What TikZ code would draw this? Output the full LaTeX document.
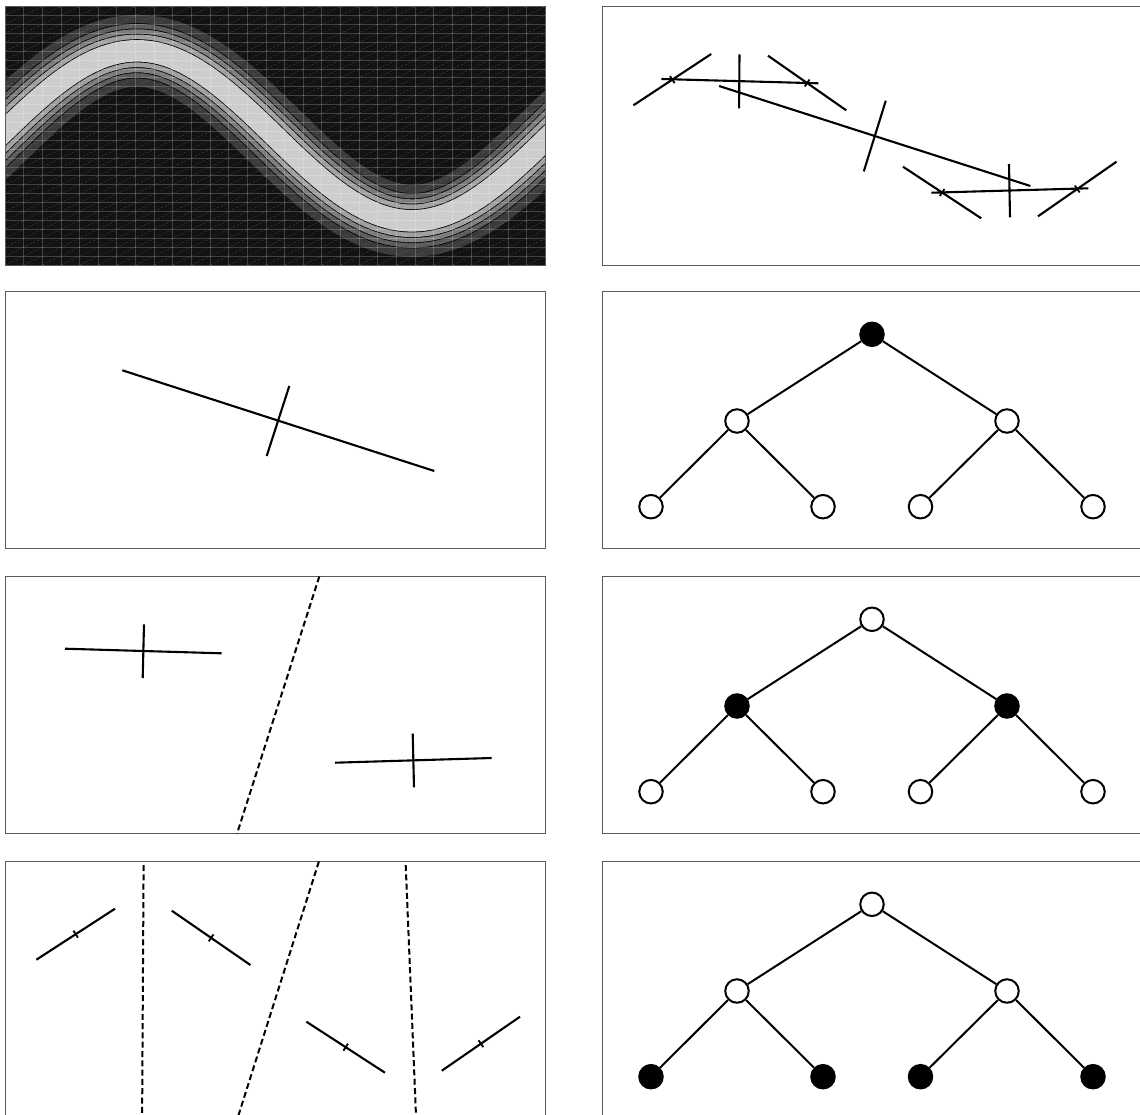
\documentclass[tikz,border=0pt]{standalone}
\usetikzlibrary{calc}
\definecolor{cbg}{HTML}{121212}
\definecolor{cone}{HTML}{3B3B3B}
\definecolor{ctwo}{HTML}{5C5C5C}
\definecolor{cthree}{HTML}{7D7D7D}
\definecolor{cfour}{HTML}{A0A0A0}
\definecolor{ccore}{HTML}{CDCDCD}
\definecolor{cframe}{HTML}{5A5A5A}
\tikzset{
  frame/.style={draw=cframe, line width=1bp},
  seg/.style={line width=2.1bp, line cap=butt},
  tickseg/.style={line width=1.8bp},
  sep/.style={line width=2bp, dash pattern=on 6bp off 3.3bp},
  vtx/.style={circle, draw, line width=2bp, minimum size=23.5bp, inner sep=0pt, fill=white},
  vtxon/.style={vtx, fill=black},
  edge/.style={line width=2bp},
  gridl/.style={white, opacity=0.2, line width=0.8bp},
  diagl/.style={white, opacity=0.16, line width=0.6bp, dash pattern=on 2bp off 2bp},
}
\newcommand\tkseg[2]{%
  \draw[seg] (#1) -- (#2);
  \draw[tickseg] ($(#1)!0.5!(#2)!4.2bp!90:(#2)$) -- ($(#1)!0.5!(#2)!4.2bp!-90:(#2)$);}
\newcommand\sinband[2]{% #1 width, #2 colour
  \draw[line width=#1bp, color=#2, line join=round]
    plot[variable=\t, domain=-70:620, samples=180, smooth] (\t,{135.8-85*sin((\t+0.5)*0.6545)});}
% tree: #1 prefix, #2 top y, #3 root style, #4 mid style, #5 leaf style
\newcommand\drawtree[5]{%
  \node[#3] (#1r) at (872,{#2+42.8}) {};
  \node[#4] (#1a) at (737,{#2+129.5}) {};
  \node[#4] (#1b) at (1007,{#2+129.5}) {};
  \node[#5] (#1c) at (651,{#2+215.2}) {};
  \node[#5] (#1d) at (823,{#2+215.2}) {};
  \node[#5] (#1e) at (920.5,{#2+215.2}) {};
  \node[#5] (#1f) at (1093,{#2+215.2}) {};
  \draw[edge] (#1r) -- (#1a);
  \draw[edge] (#1r) -- (#1b);
  \draw[edge] (#1a) -- (#1c);
  \draw[edge] (#1a) -- (#1d);
  \draw[edge] (#1b) -- (#1e);
  \draw[edge] (#1b) -- (#1f);}
\begin{document}
\begin{tikzpicture}[x=1bp,y=-1bp]
\path[use as bounding box, fill=white] (0,0) rectangle (1140,1115);
\clip (0,0) rectangle (1140,1115);

% ---------- panel 1 left: contour plot ----------
\begin{scope}
  \clip (5,6.5) rectangle (545.5,265);
  \fill[cbg] (5,6.5) rectangle (545.5,265);
  \sinband{71.8}{cone}
  \sinband{55.2}{black}
  \sinband{53.6}{ctwo}
  \sinband{44.6}{black}
  \sinband{43.0}{cthree}
  \sinband{34.2}{black}
  \sinband{32.6}{cfour}
  \sinband{23.2}{black}
  \sinband{21.6}{ccore}
  \foreach \i in {1,...,28} {
    \draw[gridl] ({5+\i*18.6379},6.5) -- ({5+\i*18.6379},265);
    \draw[gridl] (5,{6.5+\i*8.9138}) -- (545.5,{6.5+\i*8.9138});
  }
  \foreach \k in {-29,...,28} {
    \draw[diagl] ({5+\k*18.6379},265) -- ({545.5+\k*18.6379},6.5);
  }
\end{scope}
\draw[frame] (5,6.5) rectangle (545.5,265);

% ---------- panel 1 right: line hierarchy ----------
\draw[frame] (1143,6.5) -- (602,6.5) -- (602,265) -- (1143,265);
\coordinate (a1) at (633.4,105.3); \coordinate (a2) at (711.2,54);
\coordinate (b1) at (661.3,79);    \coordinate (b2) at (818.3,83.3);
\coordinate (v1) at (739.5,54.3);  \coordinate (v2) at (739.1,108.3);
\coordinate (c1) at (768,55.7);    \coordinate (c2) at (846.2,110.3);
\coordinate (d1) at (719.1,86);    \coordinate (d2) at (1030.4,186);
\coordinate (e1) at (885.8,100.7); \coordinate (e2) at (863.8,171.3);
\coordinate (f1) at (903,166.7);   \coordinate (f2) at (981.2,218.3);
\coordinate (g1) at (931.3,192.7); \coordinate (g2) at (1088.3,188.3);
\coordinate (w1) at (1009,164);    \coordinate (w2) at (1010,217.3);
\coordinate (h1) at (1038,216.3);  \coordinate (h2) at (1116.5,161.7);
\tkseg{a1}{a2}
\tkseg{c1}{c2}
\tkseg{f1}{f2}
\tkseg{h1}{h2}
\draw[seg] (b1) -- (b2);
\draw[seg] (v1) -- (v2);
\draw[seg] (d1) -- (d2);
\draw[seg] (e1) -- (e2);
\draw[seg] (g1) -- (g2);
\draw[seg] (w1) -- (w2);

% ---------- panel 2 left ----------
\draw[frame] (5,291.5) rectangle (545.5,548.7);
\coordinate (p1) at (122.3,370.3); \coordinate (p2) at (434.3,471);
\coordinate (q1) at (289.3,386);   \coordinate (q2) at (266.7,456);
\draw[seg] (p1) -- (p2);
\draw[seg] (q1) -- (q2);

% ---------- panel 2 right ----------
\draw[frame] (1143,291.5) -- (602,291.5) -- (602,548.7) -- (1143,548.7);
\drawtree{t}{291.5}{vtxon}{vtx}{vtx}

% ---------- panel 3 left ----------
\draw[frame] (5,576.5) rectangle (545.5,833.7);
\coordinate (r1) at (65,648.7);    \coordinate (r2) at (221.7,653.3);
\coordinate (s1) at (144,624.3);   \coordinate (s2) at (142.7,678);
\coordinate (r3) at (335,762.7);   \coordinate (r4) at (491.7,758);
\coordinate (s3) at (412.7,733.7); \coordinate (s4) at (414,787.3);
\coordinate (k1) at (319.3,576.5); \coordinate (k2) at (237,833.7);
\draw[seg] (r1) -- (r2);
\draw[seg] (s1) -- (s2);
\draw[seg] (r3) -- (r4);
\draw[seg] (s3) -- (s4);
\draw[sep] (k1) -- (k2);

% ---------- panel 3 right ----------
\draw[frame] (1143,576.5) -- (602,576.5) -- (602,833.7) -- (1143,833.7);
\drawtree{u}{576.5}{vtx}{vtxon}{vtx}

% ---------- panel 4 left ----------
\draw[frame] (5,1120) -- (5,861.5) -- (545.5,861.5) -- (545.5,1120);
\coordinate (l1) at (36.4,959.7);  \coordinate (l2) at (115,908.7);
\coordinate (l3) at (171.8,910.7); \coordinate (l4) at (250.4,965);
\coordinate (l5) at (306.4,1021.7);\coordinate (l6) at (385,1072.7);
\coordinate (l7) at (441.8,1070.7);\coordinate (l8) at (520,1016.7);
\coordinate (m1) at (143.6,865);   \coordinate (m2) at (142.1,1118);
\coordinate (m3) at (318.9,861.5); \coordinate (m4) at (237.6,1118);
\coordinate (m5) at (405.7,865);   \coordinate (m6) at (416.1,1118);
\tkseg{l1}{l2}
\tkseg{l3}{l4}
\tkseg{l5}{l6}
\tkseg{l7}{l8}
\draw[sep] (m1) -- (m2);
\draw[sep] (m3) -- (m4);
\draw[sep] (m5) -- (m6);

% ---------- panel 4 right ----------
\draw[frame] (1143,861.5) -- (602,861.5) -- (602,1120);
\drawtree{z}{861.5}{vtx}{vtx}{vtxon}
\end{tikzpicture}
\end{document}
